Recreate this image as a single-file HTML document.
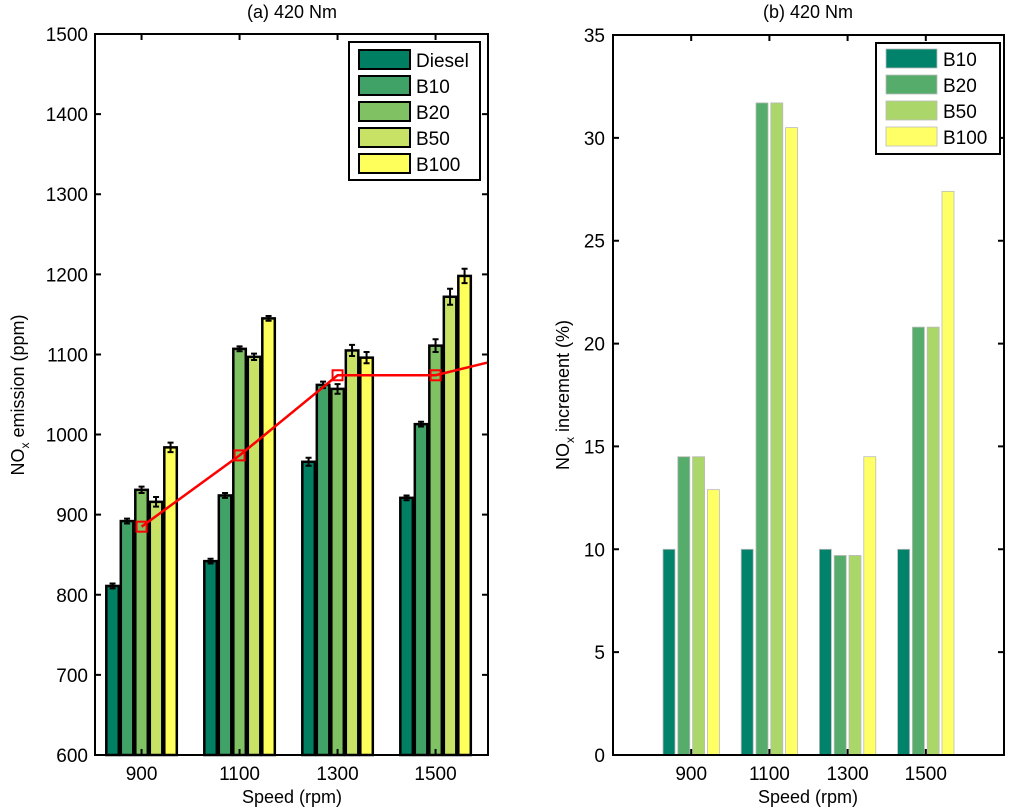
<!DOCTYPE html>
<html><head><meta charset="utf-8"><style>
body{margin:0;background:#fff}
svg{display:block;font-family:"Liberation Sans",sans-serif}
</style></head><body>
<svg id="c" width="1024" height="810" viewBox="0 0 1024 810" xmlns="http://www.w3.org/2000/svg"></svg>
<script>
const speeds=[900,1100,1300,1500];
const fuelsA=["Diesel","B10","B20","B50","B100"];
const colorsA=["#007f62","#41a267","#80c163","#c7e264","#ffff5c"];
const dieselVals=[811,842,966,921];
const b10Vals=[892,924,1062,1013];
const b20Vals=[931,1107,1057,1111];
const b50Vals=[916,1097,1105,1172];
const b100Vals=[984,1145,1096,1198];
const errA=[[3,3,5,3],[3,3,4,3],[4,3,6,8],[6,4,7,10],[6,3,7,9]];
const lineVals=[885,974,1074,1074];
const lineEnd=1090;
const yTicksA=[600,700,800,900,1000,1100,1200,1300,1400,1500];
const fuelsB=["B10","B20","B50","B100"];
const colorsB=["#00836a","#56ac6a","#aad66a","#ffff66"];
const incB10=[10,10,10,10];
const incB20=[14.5,31.7,9.7,20.8];
const incB50=[14.5,31.7,9.7,20.8];
const incB100=[12.9,30.5,14.5,27.4];
const yTicksB=[0,5,10,15,20,25,30,35];

const NS="http://www.w3.org/2000/svg";
const svg=document.getElementById('c');
function el(t,a,p){const e=document.createElementNS(NS,t);for(const k in a)e.setAttribute(k,a[k]);(p||svg).appendChild(e);return e;}
function txt(s,a,p){const e=el('text',a,p);e.textContent=s;return e;}
const FT=19, FL=18;

// ---- Panel A ----
const A={x0:95,x1:488,y0:34,y1:755};
const xA=v=>A.x0+(v-805)/(1607-805)*(A.x1-A.x0);
const yA=v=>A.y1-(v-600)/900*(A.y1-A.y0);
const gA=el('g',{});

const seriesA=[dieselVals,b10Vals,b20Vals,b50Vals,b100Vals];
const bwA=14.5;
seriesA.forEach((vals,si)=>{
  vals.forEach((v,gi)=>{
    const cx=xA(speeds[gi])+(si-2)*bwA;
    const r=el('rect',{x:cx-bwA/2+1,y:yA(v),width:bwA-2,height:yA(600)-yA(v),fill:colorsA[si],stroke:'#000','stroke-width':2.5},gA);
    
    
    const e=errA[si][gi];
    const eb=el('path',{d:`M${cx},${yA(v+e)}V${yA(v-e)}M${cx-3},${yA(v+e)}H${cx+3}M${cx-3},${yA(v-e)}H${cx+3}`,stroke:'#000','stroke-width':2,fill:'none'},gA);
    
    
  });
});
let d='';
lineVals.forEach((v,i)=>{d+=(i?'L':'M')+xA(speeds[i])+','+yA(v);});
d+='L'+A.x1+','+yA(lineEnd);
const rl=el('path',{d:d,stroke:'#ff0000','stroke-width':2.5,fill:'none'},gA);


lineVals.forEach((v,i)=>{
  const m=el('rect',{x:xA(speeds[i])-5,y:yA(v)-5,width:10,height:10,fill:'none',stroke:'#ff0000','stroke-width':2},gA);
  
  
});
const frA=el('rect',{x:A.x0,y:A.y0,width:A.x1-A.x0,height:A.y1-A.y0,fill:'none',stroke:'#000','stroke-width':2},gA);

yTicksA.forEach(t=>{
  el('path',{d:`M${A.x0},${yA(t)}h6M${A.x1},${yA(t)}h-6`,stroke:'#000','stroke-width':2},gA);
  const l=txt(t,{x:A.x0-7,y:yA(t)+7,'text-anchor':'end','font-size':FT},gA);
  
});
speeds.forEach(s=>{
  el('path',{d:`M${xA(s)},${A.y1}v-6M${xA(s)},${A.y0}v6`,stroke:'#000','stroke-width':2},gA);
  const l=txt(s,{x:xA(s),y:780,'text-anchor':'middle','font-size':FT},gA);
  
});
const tA=txt('(a) 420 Nm',{x:292,y:18,'text-anchor':'middle','font-size':FL},gA);

const xlA=txt('Speed (rpm)',{x:292,y:803,'text-anchor':'middle','font-size':FL},gA);

const ylA=el('text',{transform:'translate(24,395) rotate(-90)','text-anchor':'middle','font-size':FL},gA);
ylA.innerHTML='NO<tspan font-size="12" dy="5">x</tspan><tspan dy="-5"> emission (ppm)</tspan>';

const lgA=el('g',{},gA);

el('rect',{x:349,y:42,width:131,height:138,fill:'#fff',stroke:'#000','stroke-width':2},lgA);
fuelsA.forEach((f,i)=>{
  const y=50+i*26;
  const sw=el('rect',{x:359,y:y,width:51,height:19,fill:colorsA[i],stroke:'#000','stroke-width':2},lgA);
  
  const l=txt(f,{x:416,y:y+17,'font-size':FT},lgA);
  
});

// ---- Panel B ----
const B={x0:613,x1:1004,y0:35,y1:755};
const xB=v=>B.x0+(v-700)/1000*(B.x1-B.x0);
const yB=v=>B.y1-v/35*(B.y1-B.y0);
const gB=el('g',{});

const seriesB=[incB10,incB20,incB50,incB100];
const pitch=14.8,bwB=12;
seriesB.forEach((vals,si)=>{
  vals.forEach((v,gi)=>{
    const cx=xB(speeds[gi])+(si-1.5)*pitch;
    const r=el('rect',{x:cx-bwB/2,y:yB(v),width:bwB,height:yB(0)-yB(v),fill:colorsB[si],stroke:'#bbb','stroke-width':0.8},gB);
    
    
  });
});
const frB=el('rect',{x:B.x0,y:B.y0,width:B.x1-B.x0,height:B.y1-B.y0,fill:'none',stroke:'#000','stroke-width':2},gB);

yTicksB.forEach(t=>{
  el('path',{d:`M${B.x0},${yB(t)}h6M${B.x1},${yB(t)}h-6`,stroke:'#000','stroke-width':2},gB);
  const l=txt(t,{x:B.x0-8,y:yB(t)+7,'text-anchor':'end','font-size':FT},gB);
  
});
speeds.forEach(s=>{
  el('path',{d:`M${xB(s)},${B.y1}v-6M${xB(s)},${B.y0}v6`,stroke:'#000','stroke-width':2},gB);
  const l=txt(s,{x:xB(s),y:780,'text-anchor':'middle','font-size':FT},gB);
  
});
const tB=txt('(b) 420 Nm',{x:808,y:18,'text-anchor':'middle','font-size':FL},gB);

const xlB=txt('Speed (rpm)',{x:808,y:803,'text-anchor':'middle','font-size':FL},gB);

const ylB=el('text',{transform:'translate(569,395) rotate(-90)','text-anchor':'middle','font-size':FL},gB);
ylB.innerHTML='NO<tspan font-size="12" dy="5">x</tspan><tspan dy="-5"> increment (%)</tspan>';

const lgB=el('g',{},gB);

el('rect',{x:876,y:43,width:124,height:111,fill:'#fff',stroke:'#000','stroke-width':2},lgB);
fuelsB.forEach((f,i)=>{
  const y=49+i*26;
  const sw=el('rect',{x:886,y:y,width:51,height:19,fill:colorsB[i],stroke:'#bbb','stroke-width':0.8},lgB);
  
  const l=txt(f,{x:943,y:y+17,'font-size':FT},lgB);
  
});
</script>
</body></html>
